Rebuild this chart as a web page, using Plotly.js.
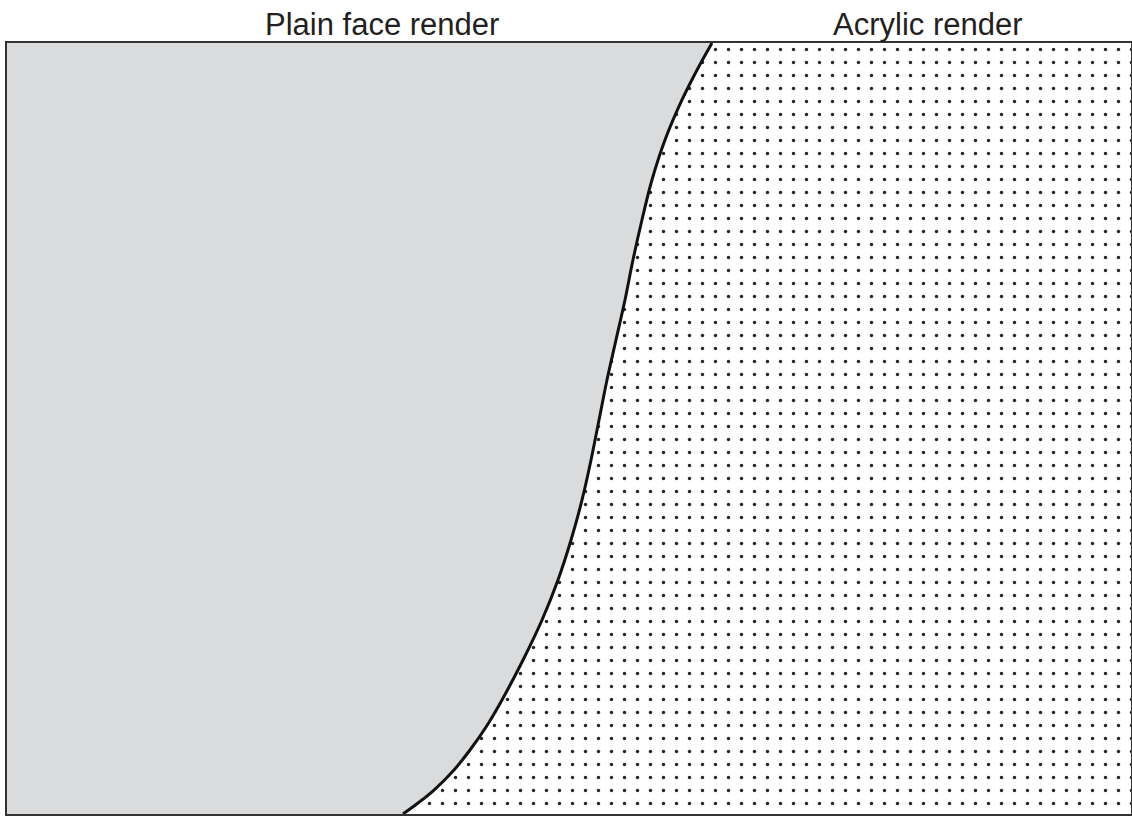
<!DOCTYPE html>
<html>
<head>
<meta charset="utf-8">
<script src="https://cdn.plot.ly/plotly-3.0.1.min.js"></script>
<style>html,body{margin:0;padding:0;background:#fff;}#chart{width:1132px;height:816px;}</style>
</head>
<body>
<div id="chart"></div>
<script>
// Boundary curve between the two render types (x: % of width, y: % of height from bottom)
const curveX = [35.23, 36.57, 37.99, 39.77, 41.19, 42.62, 44.04, 45.91, 47.60, 49.02, 50.18, 51.16, 51.96, 52.67, 53.38, 54.18, 54.98, 55.69, 56.49, 57.38, 58.54, 60.05, 61.39, 62.72];
const curveY = [0, 1.43, 3.11, 5.71, 8.30, 11.28, 14.79, 19.97, 25.16, 30.35, 35.54, 40.73, 45.91, 51.10, 56.29, 61.48, 66.67, 71.85, 77.04, 82.23, 87.42, 92.61, 96.50, 100];
const regionLabels = ["Plain face render", "Acrylic render"];
const labelX = [33.32, 81.9];
const xMin = 0, xMax = 100, yMin = 0, yMax = 100;

// left polygon: bottom-left -> along curve -> top-left
const leftX = [xMin].concat(curveX, [xMin]);
const leftY = [yMin].concat(curveY, [yMax]);
// right polygon: down the curve -> bottom-right -> top-right
const rX = curveX.slice().reverse().concat([xMax, xMax]);
const rY = curveY.slice().reverse().concat([yMin, yMax]);

const traces = [
  {x: leftX, y: leftY, type: 'scatter', mode: 'lines', fill: 'toself',
   fillcolor: '#d9dbdd', line: {width: 0, color: 'rgba(0,0,0,0)'}, hoverinfo: 'skip'},
  {x: rX, y: rY, type: 'scatter', mode: 'lines', fill: 'toself',
   fillcolor: '#ffffff',
   fillpattern: {shape: '.', size: 13, solidity: 0.055, fgcolor: '#262626', bgcolor: '#ffffff'},
   line: {width: 0, color: 'rgba(0,0,0,0)'}, hoverinfo: 'skip'},
  {x: curveX, y: curveY, type: 'scatter', mode: 'lines',
   line: {color: '#111111', width: 3, shape: 'spline', smoothing: 1}, hoverinfo: 'skip'}
];

const axisCommon = {showgrid: false, zeroline: false, showticklabels: false, ticks: '',
  showline: true, mirror: true, linecolor: '#333333', linewidth: 2, fixedrange: true};

const layout = {
  width: 1132, height: 816,
  margin: {l: 7, r: 1, t: 43, b: 2, pad: 0},
  paper_bgcolor: '#ffffff', plot_bgcolor: '#ffffff',
  showlegend: false,
  xaxis: Object.assign({range: [xMin, xMax]}, axisCommon),
  yaxis: Object.assign({range: [yMin, yMax]}, axisCommon),
  annotations: regionLabels.map((t, i) => ({
    text: t, x: labelX[i], xref: 'x', y: 1.0246, yref: 'paper',
    xanchor: 'center', yanchor: 'middle', showarrow: false,
    font: {family: 'Liberation Sans, Arial, sans-serif', size: 31, color: '#231f20'}
  }))
};

Plotly.newPlot('chart', traces, layout, {staticPlot: true, displayModeBar: false});
</script>
</body>
</html>
